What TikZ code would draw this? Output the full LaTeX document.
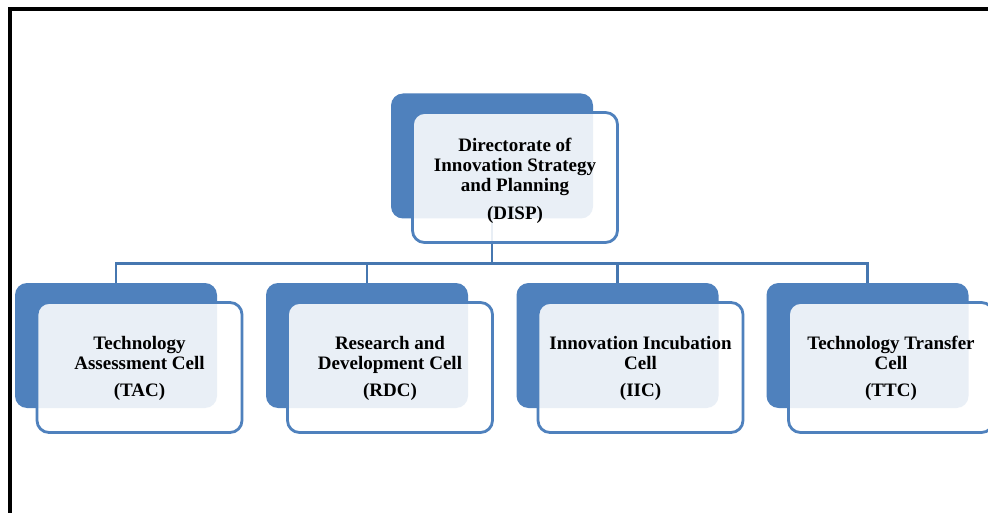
\documentclass[tikz,border=0pt]{standalone}
\usepackage{fontspec}
\setmainfont{Liberation Serif}
\definecolor{boxblue}{HTML}{4F81BD}
\definecolor{lineblue}{HTML}{4677B0}
\definecolor{frontfill}{HTML}{FFFFFF}
\begin{document}
\begin{tikzpicture}[x=1pt,y=-1pt,
  backbox/.style={draw=none,fill=boxblue,rounded corners=12pt,minimum width=202pt,minimum height=125pt,inner sep=0pt},
  frontbox/.style={draw=boxblue,line width=2.8pt,fill=frontfill,fill opacity=0.88,rounded corners=12pt,minimum width=205pt,minimum height=130pt,inner sep=0pt},
  boxtext/.style={align=center,inner sep=0pt,font=\fontsize{19}{20}\selectfont\bfseries},
  conn/.style={draw=lineblue,line width=2.8pt}]
\useasboundingbox (0,0) rectangle (988,513);
\fill[white] (0,0) rectangle (988,513);
\draw[line width=4pt,line cap=rect] (10,513) -- (10,9) -- (988,9);
% back rectangles
\node[backbox] (tb) at (492,156) {};
\node[backbox] (b1) at (116,345.5) {};
\node[backbox] (b2) at (367,345.5) {};
\node[backbox] (b3) at (617.5,345.5) {};
\node[backbox] (b4) at (867.5,345.5) {};
% connectors
\draw[conn] (tb.south) -- ++(0,45) coordinate (hub);
\foreach \b in {b1,b2,b3,b4} \draw[conn] (hub) -| (\b.north);
% front boxes
\node[frontbox] (tf) at (515,177.5) {};
\node[frontbox] (f1) at (139.5,367.5) {};
\node[frontbox] (f2) at (390,367.5) {};
\node[frontbox] (f3) at (640.5,367.5) {};
\node[frontbox] (f4) at (891,367.5) {};
% texts
\node[boxtext] (tft) at ([yshift=-3pt]tf.center) {Directorate of\\Innovation Strategy\\and Planning\\[8pt](DISP)};
\node[boxtext] (f1t) at ([yshift=-1pt]f1.center) {Technology\\Assessment Cell\\[7pt](TAC)};
\node[boxtext] (f2t) at ([yshift=-1pt]f2.center) {Research and\\Development Cell\\[7pt](RDC)};
\node[boxtext] (f3t) at ([yshift=-1pt]f3.center) {Innovation Incubation\\Cell\\[7pt](IIC)};
\node[boxtext] (f4t) at ([yshift=-1pt]f4.center) {Technology Transfer\\Cell\\[7pt](TTC)};
\end{tikzpicture}
\end{document}
